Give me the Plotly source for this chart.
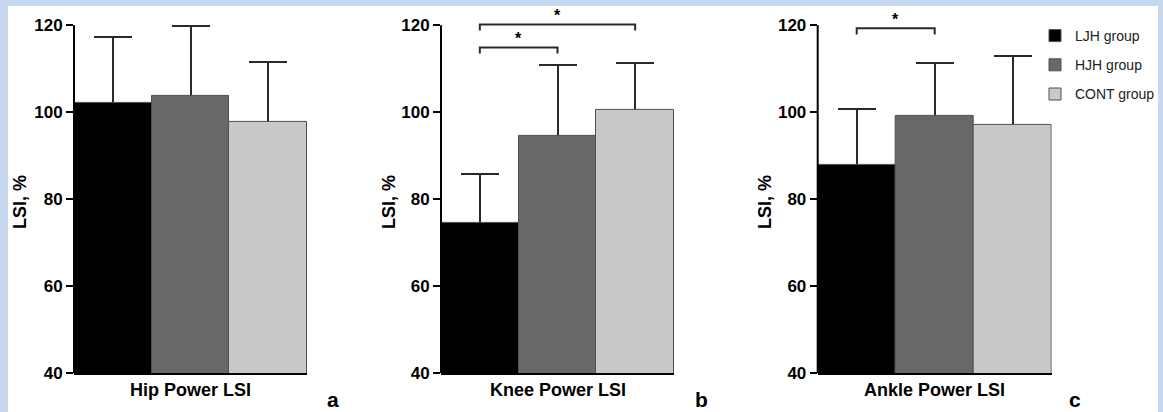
import plotly.graph_objects as go

W, H = 1163, 412

groups = ["LJH group", "HJH group", "CONT group"]
colors = ["#000000", "#686868", "#c8c8c8"]

panels = ["Hip Power LSI", "Knee Power LSI", "Ankle Power LSI"]
panel_letters = ["a", "b", "c"]

hip_mean = [102.1, 103.8, 97.9]
hip_sd = [15.1, 16.0, 13.7]
knee_mean = [74.6, 94.6, 100.6]
knee_sd = [11.3, 16.3, 10.7]
ankle_mean = [87.8, 99.2, 97.1]
ankle_sd = [13.0, 12.1, 15.9]

means = [hip_mean, knee_mean, ankle_mean]
sds = [hip_sd, knee_sd, ankle_sd]

y_ticks = [40, 60, 80, 100, 120]

# significance brackets: (panel index, group i, group j, bracket y level)
brackets = [(1, 0, 1, 114.9), (1, 0, 2, 120.2), (2, 0, 1, 119.3)]

# layout geometry (pixels)
x_dom_px = [(74, 307), (441, 674), (817.7, 1051.7)]
y_bottom_px, y_top_px = 373.3, 7.9
y_range = [40, 124]
ytitle_x_px = [20, 389, 765]
letter_x_px = [333, 701, 1075]

fig = go.Figure()

for p in range(3):
    xs = "" if p == 0 else str(p + 1)
    xa, ya = "x" + xs, "y" + xs
    # error bar carrier (transparent), drawn underneath the coloured bars
    fig.add_trace(go.Bar(
        x=[0, 1, 2], y=means[p], width=1, xaxis=xa, yaxis=ya,
        marker=dict(color="rgba(0,0,0,0)", line=dict(width=0)),
        error_y=dict(type="data", array=sds[p], visible=True, color="#2a2a2a",
                     thickness=2, width=19),
        showlegend=False, hoverinfo="skip"))
    for i, g in enumerate(groups):
        fig.add_trace(go.Bar(
            x=[i], y=[means[p][i]], width=1, xaxis=xa, yaxis=ya, name=g,
            marker=dict(color=colors[i], line=dict(color="#505050", width=1)),
            showlegend=(p == 0), legendgroup=g))

layout = dict(
    width=W, height=H, autosize=False,
    margin=dict(l=0, r=0, t=0, b=0, pad=0, autoexpand=False),
    paper_bgcolor="#c6d9f0", plot_bgcolor="rgba(0,0,0,0)",
    barmode="overlay", bargap=0,
    font=dict(family="Arial, Liberation Sans, sans-serif", color="#000"),
    legend=dict(x=1160 / W, y=(H - 20) / H, xanchor="right", yanchor="top",
                font=dict(size=14, color="#222"), bgcolor="rgba(0,0,0,0)",
                tracegroupgap=8, itemclick=False),
)

shapes = [dict(type="rect", xref="paper", yref="paper", x0=8 / W, x1=1158 / W,
               y0=-0.02, y1=(H - 6) / H, fillcolor="white", line=dict(width=0),
               layer="below")]
annotations = []

for p in range(3):
    xs = "" if p == 0 else str(p + 1)
    d0, d1 = x_dom_px[p][0] / W, x_dom_px[p][1] / W
    layout["xaxis" + xs] = dict(
        domain=[d0, d1], range=[-0.5, 2.5], showticklabels=False, ticks="",
        showgrid=False, zeroline=False, showline=True, linecolor="#000",
        linewidth=2, anchor="y" + xs, fixedrange=True, automargin=False)
    layout["yaxis" + xs] = dict(
        domain=[(H - y_bottom_px) / H, (H - y_top_px) / H], range=y_range,
        tickvals=y_ticks, ticks="outside", ticklen=7, tickwidth=2,
        tickcolor="#000", showgrid=False, zeroline=False, showline=False,
        tickfont=dict(size=17, weight="bold", color="#000"),
        anchor="x" + xs, fixedrange=True, automargin=False)
    # y axis line from 40 to 120
    shapes.append(dict(type="line", xref="paper", yref="y" + xs, x0=d0, x1=d0,
                       y0=y_ticks[0], y1=y_ticks[-1],
                       line=dict(color="#000", width=2)))
    # x axis title
    annotations.append(dict(text="<b>" + panels[p] + "</b>", xref="paper",
                            yref="paper", x=(d0 + d1) / 2, y=(H - 390) / H,
                            showarrow=False, font=dict(size=18),
                            xanchor="center", yanchor="middle"))
    # y axis title
    annotations.append(dict(text="<b>LSI, %</b>", xref="paper", yref="paper",
                            x=ytitle_x_px[p] / W, y=(H - 202) / H, textangle=-90,
                            showarrow=False, font=dict(size=18),
                            xanchor="center", yanchor="middle"))
    # panel letter
    annotations.append(dict(text="<b>" + panel_letters[p] + "</b>", xref="paper",
                            yref="paper", x=letter_x_px[p] / W, y=0.5 / H,
                            showarrow=False, font=dict(size=21),
                            xanchor="center", yanchor="bottom",
                            borderpad=0))

tip = 1.4
for (p, i, j, yb) in brackets:
    xs = "" if p == 0 else str(p + 1)
    shapes.append(dict(type="path", xref="x" + xs, yref="y" + xs,
                       path=f"M {i} {yb - tip} L {i} {yb} L {j} {yb} L {j} {yb - tip}",
                       line=dict(color="#2a2a2a", width=2)))
    annotations.append(dict(text="<b>*</b>", xref="x" + xs, yref="y" + xs,
                            x=(i + j) / 2, y=yb, showarrow=False,
                            font=dict(size=16), xanchor="center",
                            yanchor="bottom", yshift=-2))

layout["shapes"] = shapes
layout["annotations"] = annotations
fig.update_layout(**layout)

fig.write_html("out.html")
